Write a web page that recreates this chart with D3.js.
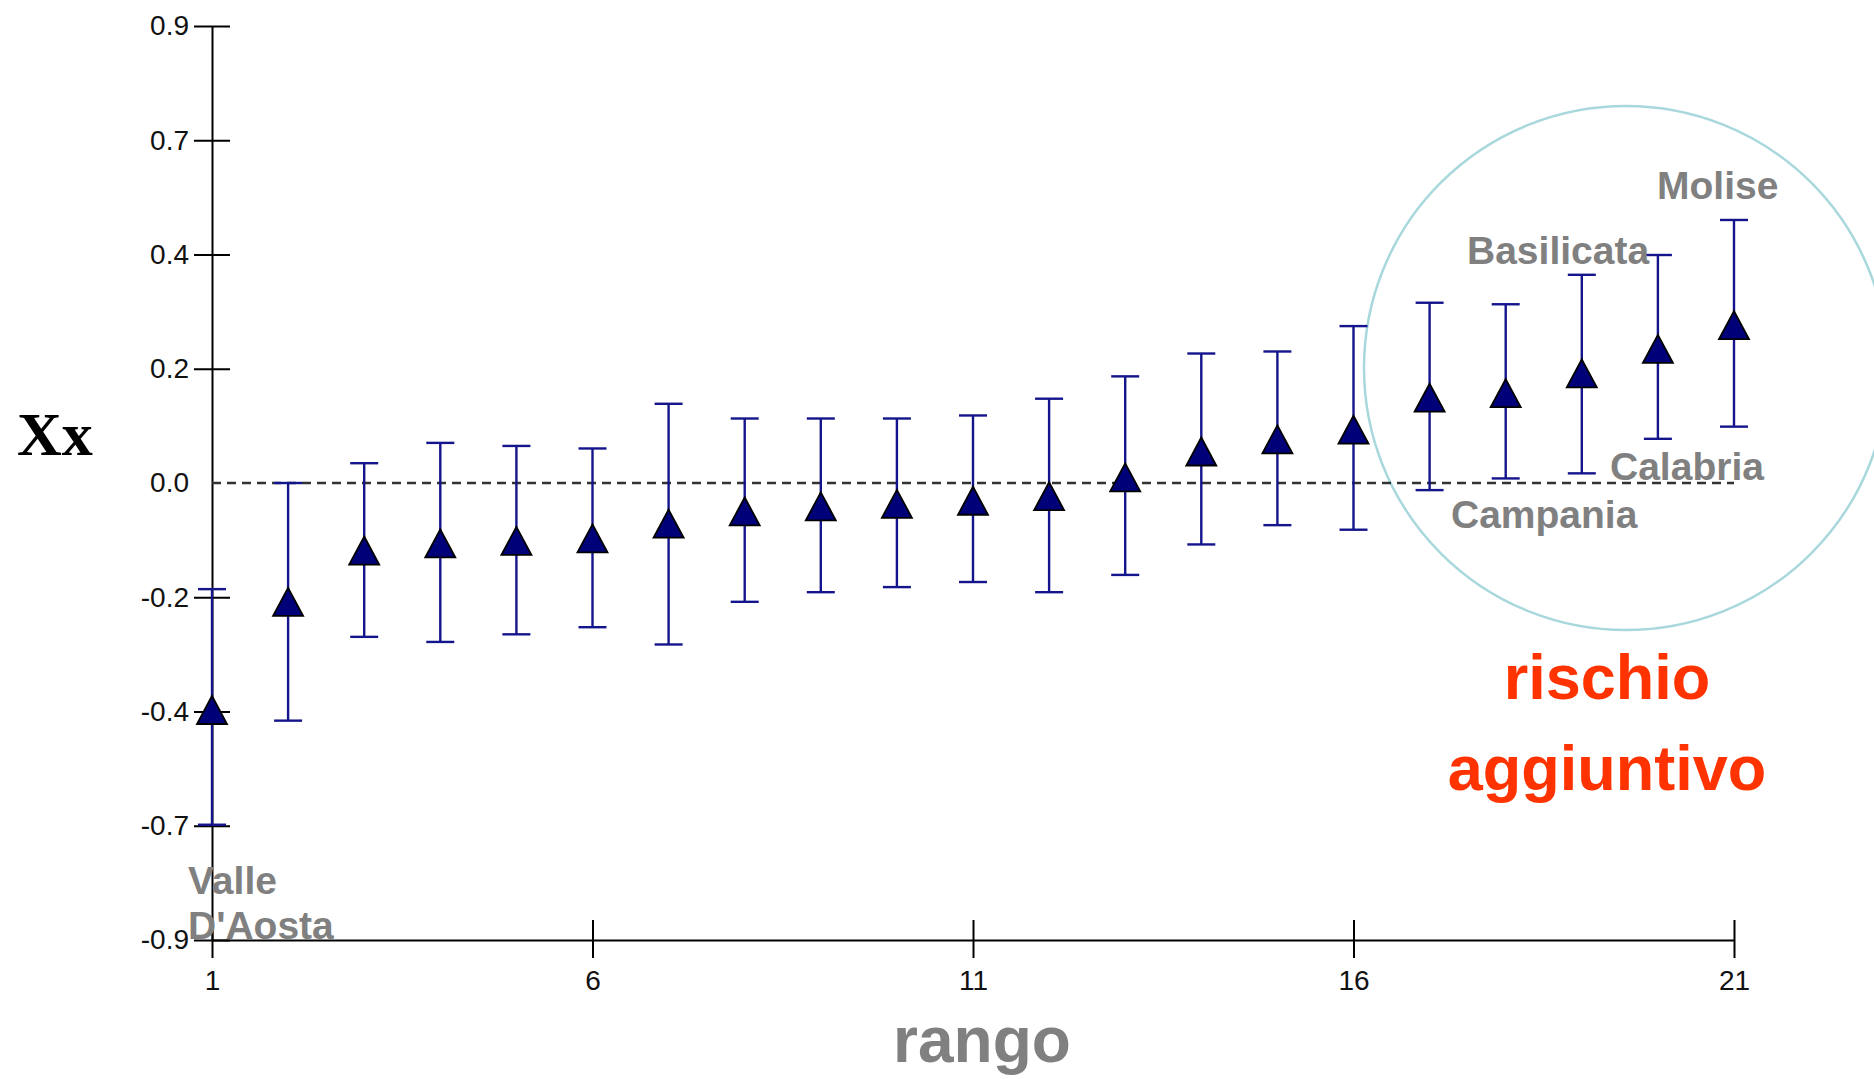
<!DOCTYPE html>
<html>
<head>
	<title>rango - Xx</title>
	<script src="https://d3js.org/d3.v7.min.js" charset="utf-8"></script>
	<style>
		body { margin: 0; background: #fff; }
		svg { display: block; }
	</style>
</head>
<body>
	<svg width="1874" height="1079"></svg>
	<script>
		// data
		var ranks = [1,2,3,4,5,6,7,8,9,10,11,12,13,14,15,16,17,18,19,20,21];
		var estimate = [-0.447,-0.234,-0.133,-0.119,-0.114,-0.109,-0.080,-0.056,-0.046,-0.041,-0.035,-0.026,0.011,0.062,0.086,0.105,0.168,0.177,0.216,0.264,0.311];
		var upper = [-0.209,0.000,0.039,0.079,0.073,0.068,0.156,0.127,0.127,0.127,0.133,0.166,0.210,0.255,0.259,0.309,0.355,0.352,0.410,0.449,0.518];
		var lower = [-0.673,-0.468,-0.303,-0.313,-0.298,-0.284,-0.318,-0.234,-0.215,-0.205,-0.195,-0.215,-0.181,-0.121,-0.083,-0.092,-0.014,0.009,0.019,0.087,0.111];

		var xTicks = [1,6,11,16,21];
		var yTicks = [0.9,0.675,0.45,0.225,0,-0.225,-0.45,-0.675,-0.9];
		var yTickLabels = ['0.9','0.7','0.4','0.2','0.0','-0.2','-0.4','-0.7','-0.9'];

		var regionLabels = [
			{name: 'Molise', x: 1657, y: 199},
			{name: 'Basilicata', x: 1467, y: 264},
			{name: 'Calabria', x: 1610, y: 480},
			{name: 'Campania', x: 1451, y: 528},
			{name: 'Valle', x: 188, y: 894},
			{name: "D'Aosta", x: 188, y: 939}
		];

		const plotLeft = 212, plotRight = 1734, plotTop = 26, plotBottom = 940;

		var svg = d3.select('svg');

		const xScale = d3.scaleLinear().domain([1, 21]).range([plotLeft, plotRight]);
		const yScale = d3.scaleLinear().domain([-0.9, 0.9]).range([plotBottom, plotTop]);

		var points = ranks.map(function(r, i) {
			return {rank: r, est: estimate[i], hi: upper[i], lo: lower[i]};
		});

		// highlight circle
		svg.append('circle')
			.attr('cx', 1626)
			.attr('cy', 368)
			.attr('r', 262)
			.style('fill', 'none')
			.style('stroke', '#a8d8dc')
			.style('stroke-width', 2.5);

		// x axis
		svg.append('g')
			.attr('transform', `translate(0, ${plotBottom})`)
			.call(d3.axisBottom(xScale).tickValues(xTicks).tickSize(18).tickSizeOuter(0))
			.call(function(g) {
				g.select('.domain').style('stroke', '#000').style('stroke-width', 2);
				g.selectAll('.tick line').attr('y1', -20).style('stroke', '#000').style('stroke-width', 2);
				g.selectAll('.tick text')
					.attr('y', 40)
					.attr('dy', '0.35em')
					.style('font-family', '"Liberation Sans", Arial, sans-serif')
					.style('font-size', '28px')
					.style('fill', '#111');
			});

		// y axis
		svg.append('g')
			.attr('transform', `translate(${plotLeft}, 0)`)
			.call(d3.axisLeft(yScale).tickValues(yTicks)
				.tickFormat(function(d, i) { return yTickLabels[i]; })
				.tickSize(18).tickSizeOuter(0))
			.call(function(g) {
				g.select('.domain').style('stroke', '#000').style('stroke-width', 2);
				g.selectAll('.tick line')
					.attr('x1', 18)
					.style('stroke', '#000').style('stroke-width', 2)
					.style('display', function(d) { return d === 0 ? 'none' : null; });
				g.selectAll('.tick text')
					.attr('x', -23)
					.style('font-family', '"Liberation Sans", Arial, sans-serif')
					.style('font-size', '28px')
					.style('fill', '#111');
			});

		// zero reference line
		svg.append('line')
			.attr('x1', xScale(1))
			.attr('x2', xScale(21))
			.attr('y1', yScale(0))
			.attr('y2', yScale(0))
			.style('stroke', '#333')
			.style('stroke-width', 2.5)
			.style('stroke-dasharray', '9,6');

		// error bars
		var bars = svg.append('g').selectAll('g')
			.data(points)
			.enter()
			.append('g')
			.style('stroke', '#14148c')
			.style('stroke-width', 2.4);

		bars.append('line')
			.attr('x1', d => xScale(d.rank))
			.attr('x2', d => xScale(d.rank))
			.attr('y1', d => yScale(d.hi))
			.attr('y2', d => yScale(d.lo));

		bars.append('line')
			.attr('x1', d => xScale(d.rank) - 14)
			.attr('x2', d => xScale(d.rank) + 14)
			.attr('y1', d => yScale(d.hi))
			.attr('y2', d => yScale(d.hi));

		bars.append('line')
			.attr('x1', d => xScale(d.rank) - 14)
			.attr('x2', d => xScale(d.rank) + 14)
			.attr('y1', d => yScale(d.lo))
			.attr('y2', d => yScale(d.lo));

		// triangle markers
		svg.append('g').selectAll('path')
			.data(points)
			.enter()
			.append('path')
			.attr('d', function(d) {
				var cx = xScale(d.rank), cy = yScale(d.est);
				return `M${cx},${cy - 14}L${cx + 15},${cy + 14}L${cx - 15},${cy + 14}Z`;
			})
			.style('fill', '#000078')
			.style('stroke', '#000')
			.style('stroke-width', 1.8)
			.style('stroke-linejoin', 'miter');

		// region names
		svg.append('g').selectAll('text')
			.data(regionLabels)
			.enter()
			.append('text')
			.attr('x', d => d.x)
			.attr('y', d => d.y)
			.text(d => d.name)
			.style('font-family', '"Liberation Sans", Arial, sans-serif')
			.style('font-weight', 'bold')
			.style('font-size', '39px')
			.style('fill', '#808080');

		// axis titles
		svg.append('text')
			.attr('x', 17)
			.attr('y', 455)
			.text('Xx')
			.style('font-family', '"Liberation Serif", "Times New Roman", serif')
			.style('font-weight', 'bold')
			.style('font-size', '62px')
			.style('fill', '#000');

		svg.append('text')
			.attr('x', 982)
			.attr('y', 1062)
			.attr('text-anchor', 'middle')
			.text('rango')
			.style('font-family', '"Liberation Sans", Arial, sans-serif')
			.style('font-weight', 'bold')
			.style('font-size', '64px')
			.style('fill', '#808080');

		// annotation
		svg.append('text')
			.attr('x', 1607)
			.attr('y', 699)
			.attr('text-anchor', 'middle')
			.text('rischio')
			.style('font-family', '"Liberation Sans", Arial, sans-serif')
			.style('font-weight', 'bold')
			.style('font-size', '63px')
			.style('fill', '#ff3300');

		svg.append('text')
			.attr('x', 1607)
			.attr('y', 790)
			.attr('text-anchor', 'middle')
			.text('aggiuntivo')
			.style('font-family', '"Liberation Sans", Arial, sans-serif')
			.style('font-weight', 'bold')
			.style('font-size', '63px')
			.style('fill', '#ff3300');
	</script>
</body>
</html>
